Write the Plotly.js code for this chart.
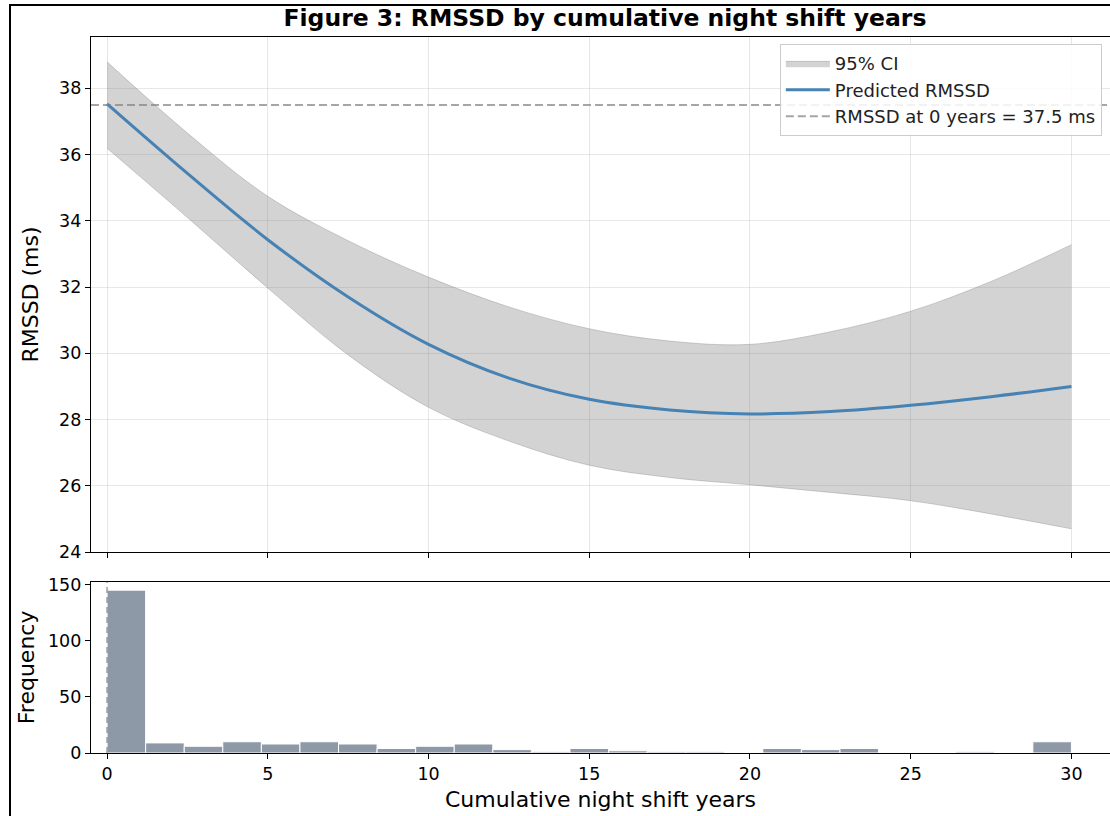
<!DOCTYPE html>
<html>
<head>
<meta charset="utf-8">
<script src="https://cdn.plot.ly/plotly-3.0.1.min.js"></script>
<style>
  html, body { margin: 0; padding: 0; background: #fff; }
  #wrap { position: relative; width: 1110px; height: 816px; overflow: hidden; }
  #chart { position: absolute; left: 0; top: 0; width: 1110px; height: 816px; }
  #frame { position: absolute; left: 9px; top: 4px; width: 1120px; height: 810px;
           border-left: 2px solid #000; border-top: 2px solid #000; border-bottom: 1px solid #888;
           pointer-events: none; }
</style>
</head>
<body>
<div id="wrap"><div id="chart"></div><div id="frame"></div></div>
<script>
// Model prediction (years -> RMSSD, ms)
const years     = [0, 2.5, 5, 7.5, 10, 12.5, 15, 17.5, 20, 22.5, 25, 27.5, 30];
const predicted = [37.53, 35.43, 33.43, 31.70, 30.27, 29.25, 28.61, 28.29, 28.17, 28.24, 28.43, 28.69, 29.00];
const ciUpper   = [38.80, 36.65, 34.74, 33.40, 32.30, 31.40, 30.74, 30.37, 30.27, 30.65, 31.27, 32.17, 33.28];
const ciLower   = [36.19, 34.10, 31.97, 29.95, 28.37, 27.35, 26.62, 26.25, 26.03, 25.80, 25.55, 25.15, 24.70];
const baselineRMSSD = 37.5;

// Histogram of cumulative night shift years (bin left edges, width 1.2)
const binLeft  = [0, 1.2, 2.4, 3.6, 4.8, 6, 7.2, 8.4, 9.6, 10.8, 12, 13.2, 14.4, 15.6, 16.8, 18, 19.2, 20.4, 21.6, 22.8, 24, 25.2, 26.4, 27.6, 28.8];
const binCount = [145, 9, 6, 10, 8, 10, 8, 4, 6, 8, 3, 1, 4, 2, 1, 1, 0, 4, 3, 4, 0, 0, 1, 0, 10];
const binWidth = 1.2;

const xRange = [-0.5, 31.2];
const font = 'DejaVu Sans, Verdana, sans-serif';

const traces = [
  { x: years, y: ciLower, type: 'scatter', mode: 'lines', line: {color: 'rgba(128,128,128,0.35)', width: 1, shape: 'spline'},
    showlegend: false, hoverinfo: 'skip', xaxis: 'x', yaxis: 'y' },
  { x: years, y: ciUpper, type: 'scatter', mode: 'lines', line: {color: 'rgba(128,128,128,0.35)', width: 1, shape: 'spline'},
    fill: 'tonexty', fillcolor: 'rgba(128,128,128,0.35)', name: '95% CI', xaxis: 'x', yaxis: 'y' },
  { x: years, y: predicted, type: 'scatter', mode: 'lines', line: {color: '#4682b4', width: 3, shape: 'spline'},
    name: 'Predicted RMSSD', xaxis: 'x', yaxis: 'y' },
  { x: xRange, y: [baselineRMSSD, baselineRMSSD], type: 'scatter', mode: 'lines',
    line: {color: 'rgba(128,128,128,0.7)', width: 2, dash: '8px,4px'},
    name: 'RMSSD at 0 years = ' + baselineRMSSD + ' ms', xaxis: 'x', yaxis: 'y' },
  { x: binLeft, y: binCount, type: 'bar', width: binWidth, offset: 0,
    marker: {color: 'rgba(112,128,144,0.8)', line: {color: '#fff', width: 1}},
    showlegend: false, xaxis: 'x2', yaxis: 'y2' }
];

const axisCommon = {
  showline: true, linecolor: '#000', linewidth: 1.2,
  ticks: 'outside', ticklen: 5, tickcolor: '#000', tickwidth: 1,
  tickfont: {family: font, size: 17.5, color: '#000'}, zeroline: false
};

const layout = {
  width: 1110, height: 816,
  margin: {l: 91, r: 0, t: 37, b: 63},
  paper_bgcolor: '#fff', plot_bgcolor: '#fff',
  font: {family: font, color: '#000'},
  title: {text: '<b>Figure 3: RMSSD by cumulative night shift years</b>', font: {family: font, size: 23.5, color: '#000'},
          xref: 'paper', x: 0.5044, xanchor: 'center', yref: 'container', y: 0.978, yanchor: 'middle'},
  showlegend: true,
  legend: {x: 0.676, xanchor: 'left', y: 0.99, yanchor: 'top', bgcolor: 'rgba(255,255,255,0.85)',
           bordercolor: '#cccccc', borderwidth: 1, font: {family: font, size: 18, color: '#222'},
           traceorder: 'normal', itemwidth: 44},
  xaxis: Object.assign({}, axisCommon, {domain: [0, 1], range: xRange, anchor: 'y', mirror: true,
           tickvals: [0, 5, 10, 15, 20, 25, 30], showticklabels: false,
           showgrid: true, gridcolor: 'rgba(176,176,176,0.3)', gridwidth: 1}),
  yaxis: Object.assign({}, axisCommon, {domain: [0.2807, 1], range: [24, 39.55], anchor: 'x',
           tickvals: [24, 26, 28, 30, 32, 34, 36, 38],
           showgrid: true, gridcolor: 'rgba(176,176,176,0.3)', gridwidth: 1,
           title: {text: 'RMSSD (ms)', font: {family: font, size: 22, color: '#000'}, standoff: 14}, automargin: true}),
  xaxis2: Object.assign({}, axisCommon, {domain: [0, 1], range: xRange, anchor: 'y2', mirror: true,
           tickvals: [0, 5, 10, 15, 20, 25, 30], showgrid: false,
           title: {text: 'Cumulative night shift years', font: {family: font, size: 22, color: '#000'}, standoff: 8}, automargin: true}),
  yaxis2: Object.assign({}, axisCommon, {domain: [0, 0.2392], range: [0, 152.5], anchor: 'x2',
           tickvals: [0, 50, 100, 150], showgrid: false,
           title: {text: 'Frequency', font: {family: font, size: 22, color: '#000'}, standoff: 7}, automargin: true}),
  shapes: [
    {type: 'line', xref: 'x2', yref: 'y2 domain', x0: 0, x1: 0, y0: 0, y1: 1, layer: 'above',
     line: {color: 'rgba(128,128,128,0.6)', width: 2, dash: '6px,4px'}}
  ]
};

Plotly.newPlot('chart', traces, layout, {displayModeBar: false, staticPlot: true});
</script>
</body>
</html>
